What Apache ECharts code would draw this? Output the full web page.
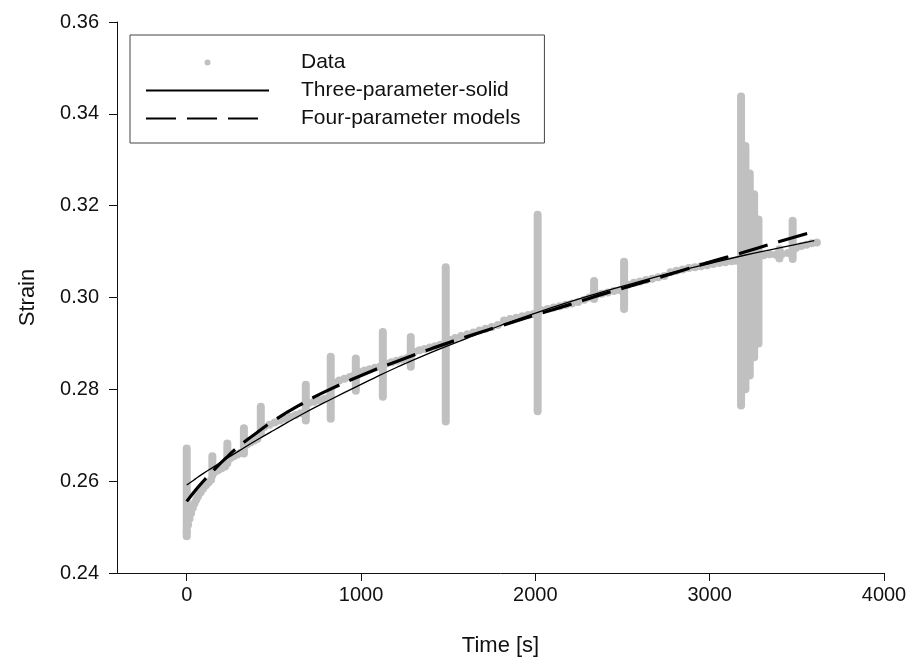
<!DOCTYPE html>
<html><head><meta charset="utf-8">
<script src="https://cdn.jsdelivr.net/npm/echarts@6/dist/echarts.min.js"></script>
<style>html,body{margin:0;padding:0;background:#fff}#c{width:912px;height:662px}</style>
</head><body><div id="c"></div>
<script>
// ---- tick labels ----
const xTicks = [0, 1000, 2000, 3000, 4000];
const yTicks = [0.24, 0.26, 0.28, 0.30, 0.32, 0.34, 0.36];

// ---- Data: baseline measurement points ----
const trackTime = [0,8,16,25,35,45,55,65,80,95,110,125,140,
  160,180,200,220, 250,270,290,310, 345,365,385,405,
  445,475,505,535,565,595,625,655, 700,730,760,790,815,
  845,875,905,935,960, 990,1020,1050,1080,1110,
  1145,1175,1205,1235,1265, 1305,1335,1365,1395,1425,1455,1475,
  1505,1540,1575,1610,1645,1680,1715,1750,1785,
  1820,1855,1890,1925,1960,1990,
  2035,2070,2105,2140,2175,2210,2245,2280,
  2310,2345,2380,2415,2450,2485,
  2530,2565,2600,2635,2670,2705,2740,
  2775,2810,2845,2880,2915,2950,2985,
  3020,3055,3090,3125,3150,
  3310,3345,3380,3415,3450,
  3495,3525,3555,3585,3615];
const trackStrain = [0.2490,0.2505,0.2518,0.2530,0.2542,0.2552,0.2560,0.2567,0.2576,0.2584,0.2591,0.2597,0.2603,
  0.2620,0.2624,0.2628,0.2632, 0.2650,0.2654,0.2658,0.2662, 0.2680,0.2684,0.2688,0.2692,
  0.2718,0.2723,0.2728,0.2732,0.2736,0.2740,0.2744,0.2748, 0.2770,0.2773,0.2776,0.2779,0.2782,
  0.2815,0.2819,0.2823,0.2827,0.2830, 0.2838,0.2841,0.2844,0.2847,0.2850,
  0.2856,0.2859,0.2862,0.2865,0.2868, 0.2882,0.2885,0.2888,0.2891,0.2894,0.2897,0.2898,
  0.2908,0.2912,0.2916,0.2920,0.2924,0.2928,0.2932,0.2936,0.2940,
  0.2950,0.2953,0.2956,0.2959,0.2962,0.2964,
  0.2972,0.2975,0.2978,0.2981,0.2984,0.2987,0.2990,0.2995,
  0.3000,0.3005,0.3008,0.3011,0.3014,0.3016,
  0.3028,0.3032,0.3035,0.3038,0.3041,0.3044,0.3047,
  0.3055,0.3058,0.3061,0.3064,0.3066,0.3068,0.3070,
  0.3073,0.3075,0.3077,0.3079,0.3080,
  0.3092,0.3094,0.3093,0.3095,0.3097,
  0.3108,0.3112,0.3115,0.3118,0.3120];

// ---- Data: vertical scatter columns (time, lowest strain, highest strain) ----
const spikeTime = [0, 147, 233, 328, 425, 683, 826, 970, 1125, 1285, 1486, 2013, 2337, 2509, 3180, 3205, 3230, 3255, 3280, 3400, 3476];
const spikeLow  = [0.2480, 0.2613, 0.2639, 0.2660, 0.2704, 0.2732, 0.2736, 0.2797, 0.2784, 0.2849, 0.2730, 0.2752, 0.2997, 0.2975, 0.2765, 0.2800, 0.2830, 0.2870, 0.2900, 0.3085, 0.3084];
const spikeHigh = [0.2671, 0.2654, 0.2682, 0.2715, 0.2762, 0.2810, 0.2871, 0.2867, 0.2925, 0.2914, 0.3066, 0.3180, 0.3036, 0.3078, 0.3438, 0.3330, 0.3270, 0.3225, 0.3170, 0.3105, 0.3167];

// ---- model curves ----
const curveTime  = [0, 25, 50, 100, 150, 224, 300, 400, 500, 654, 800, 1056, 1200, 1400, 1600, 1800, 2000, 2200, 2400, 2600, 2800, 3000, 3200, 3400, 3600];
const threeParam = [0.2592, 0.2598, 0.2605, 0.2618, 0.2630, 0.2648, 0.2666, 0.2689, 0.2711, 0.2744, 0.2773, 0.2821, 0.2847, 0.2880, 0.2910, 0.2939, 0.2966, 0.2991, 0.3014, 0.3035, 0.3056, 0.3074, 0.3092, 0.3108, 0.3124];
const fourParam  = [0.2556, 0.2568, 0.2580, 0.2602, 0.2622, 0.2650, 0.2676, 0.2705, 0.2732, 0.2767, 0.2796, 0.2839, 0.2860, 0.2888, 0.2914, 0.2938, 0.2962, 0.2985, 0.3009, 0.3031, 0.3054, 0.3077, 0.3099, 0.3122, 0.3144];

const GRAY = '#c0c0c0';
const FONT = '"Liberation Sans", Arial, Helvetica, sans-serif';
const NOSYM = {color: 'rgba(0,0,0,0)', borderColor: 'rgba(0,0,0,0)', borderWidth: 0};

const chart = echarts.init(document.getElementById('c'), null, {renderer: 'canvas'});
chart.setOption({
  animation: false,
  backgroundColor: '#fff',
  textStyle: {fontFamily: FONT},
  grid: {left: 117, right: 28, top: 22, bottom: 87},
  legend: {
    orient: 'vertical', left: 130, top: 35,
    backgroundColor: '#fff', borderColor: '#444', borderWidth: 1,
    padding: [16, 24, 13, 15], itemGap: 5, itemWidth: 123, itemHeight: 6,
    textStyle: {fontSize: 21, color: '#111', fontFamily: FONT, lineHeight: 23, padding: [0, 0, 0, 27]},
    data: [
      {name: 'Data', icon: 'circle', itemStyle: {color: GRAY}},
      {name: 'Three-parameter-solid', itemStyle: NOSYM},
      {name: 'Four-parameter models', itemStyle: NOSYM}
    ]
  },
  xAxis: {
    type: 'value', min: -400, max: 4000,
    name: 'Time [s]', nameLocation: 'middle', nameGap: 62,
    nameTextStyle: {fontSize: 22, color: '#111', fontFamily: FONT},
    axisLine: {show: true, onZero: false, lineStyle: {color: '#111', width: 1}},
    axisTick: {show: true, length: 8, customValues: xTicks, lineStyle: {color: '#111'}},
    axisLabel: {customValues: xTicks, fontSize: 20, color: '#111', margin: 12, fontFamily: FONT,
      formatter: v => String(v)},
    splitLine: {show: false}
  },
  yAxis: {
    type: 'value', min: 0.24, max: 0.36,
    name: 'Strain', nameLocation: 'middle', nameGap: 78,
    nameTextStyle: {fontSize: 22, color: '#111', fontFamily: FONT},
    axisLine: {show: true, onZero: false, lineStyle: {color: '#111', width: 1}},
    axisTick: {show: true, length: 8, customValues: yTicks, lineStyle: {color: '#111'}},
    axisLabel: {customValues: yTicks, fontSize: 20, color: '#111', margin: 18, fontFamily: FONT,
      formatter: v => Number(v).toFixed(2)},
    splitLine: {show: false}
  },
  series: [
    {
      name: 'Data', type: 'scatter', symbol: 'circle', symbolSize: 8, z: 1,
      itemStyle: {color: GRAY, opacity: 1},
      data: trackTime.map((t, i) => [t, trackStrain[i]]),
      silent: true
    },
    {
      name: 'Data', type: 'custom', z: 1, silent: true,
      data: spikeTime.map((t, i) => [t, spikeLow[i], spikeHigh[i]]),
      encode: {x: 0, y: [1, 2]},
      renderItem: (params, api) => {
        const p1 = api.coord([api.value(0), api.value(1)]);
        const p2 = api.coord([api.value(0), api.value(2)]);
        return {type: 'line', shape: {x1: p1[0], y1: p1[1], x2: p2[0], y2: p2[1]},
          style: {stroke: GRAY, lineWidth: 8, lineCap: 'round'}};
      }
    },
    {
      name: 'Three-parameter-solid', type: 'line', smooth: true, symbol: 'none', z: 3,
      lineStyle: {color: '#000', width: 1.3},
      itemStyle: {color: '#000'},
      data: curveTime.map((t, i) => [t, threeParam[i]])
    },
    {
      name: 'Four-parameter models', type: 'line', smooth: true, symbol: 'none', z: 4,
      lineStyle: {color: '#000', width: 3.2, type: [30, 11]},
      itemStyle: {color: '#000'},
      data: curveTime.map((t, i) => [t, fourParam[i]])
    }
  ]
});
</script>
</body></html>
